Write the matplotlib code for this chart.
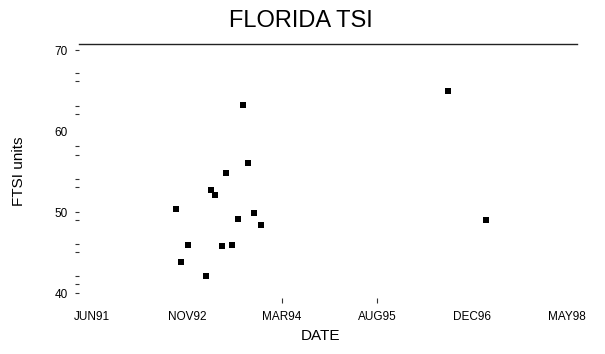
import matplotlib
matplotlib.use("Agg")
import matplotlib.pyplot as plt
import matplotlib.dates as mdates
import numpy as np
from datetime import date

plt.rcParams["font.family"] = ["Liberation Sans", "DejaVu Sans"]

obs_dates = [
    "1992-09-18", "1992-10-14", "1992-11-19", "1993-02-22", "1993-03-22",
    "1993-04-10", "1993-05-17", "1993-06-10", "1993-07-12", "1993-08-09",
    "1993-09-08", "1993-10-01", "1993-11-03", "1993-12-08", "1996-08-20",
    "1997-03-10",
]
tsi = [
    50.4, 43.9, 46.0, 42.2, 52.8,
    52.1, 45.9, 54.9, 46.0, 49.2,
    63.3, 56.1, 49.9, 48.5, 65.0,
    49.1,
]

tick_dates = ["1991-06-30", "1992-11-13", "1994-03-29", "1995-08-13", "1996-12-27", "1998-05-12"]
tick_labels = ["JUN91", "NOV92", "MAR94", "AUG95", "DEC96", "MAY98"]
y_major = [40, 50, 60, 70]
y_minor = [41.2, 42.1, 45.1, 46.1, 49.1, 53.1, 54.1, 57.1, 58.2, 62.1, 63.2, 66.2, 67.2]


def to_num(s):
    return mdates.date2num(date.fromisoformat(s))


x = [to_num(d) for d in obs_dates]

fig = plt.figure(figsize=(6.05, 3.54), dpi=100)
ax = fig.add_axes([79 / 605, 1 - 297.5 / 354, (577 - 79) / 605, (297.5 - 44) / 354])

ax.plot(x, tsi, linestyle="none", marker="s", markersize=4.5,
        color="black", markeredgewidth=0)

ax.set_xlim(to_num("1991-04-25"), to_num("1998-07-02"))
ax.set_ylim(39.5, 70.8)

for side in ["left", "right", "bottom"]:
    ax.spines[side].set_visible(False)
ax.spines["top"].set_linewidth(1.0)
ax.spines["top"].set_color("#222222")

ax.set_xticks([to_num(d) for d in tick_dates])
ax.set_xticklabels(tick_labels)
ax.set_yticks(y_major)
ax.set_yticks(y_minor, minor=True)
ax.tick_params(axis="x", direction="out", length=3.6, width=0.8, pad=6,
               labelsize=8.5, color="#333333")
ax.tick_params(axis="y", which="both", direction="out", length=3, width=0.8,
               pad=5, labelsize=8.5, color="#333333")

# only two x ticks and no tick at 60 are drawn in the original
for i, t in enumerate(ax.xaxis.get_major_ticks()):
    if tick_labels[i] not in ("MAR94", "AUG95"):
        t.tick1line.set_visible(False)
for i, t in enumerate(ax.yaxis.get_major_ticks()):
    if y_major[i] == 60:
        t.tick1line.set_visible(False)

fig.text(301 / 605, 1 - 21 / 354, "FLORIDA TSI", ha="center", va="center", fontsize=17)
fig.text(19 / 605, 1 - 171 / 354, "FTSI units", ha="center", va="center",
         rotation=90, fontsize=11)
fig.text(321 / 605, 1 - 336 / 354, "DATE", ha="center", va="center", fontsize=11)

fig.savefig("out.png", dpi=100)
